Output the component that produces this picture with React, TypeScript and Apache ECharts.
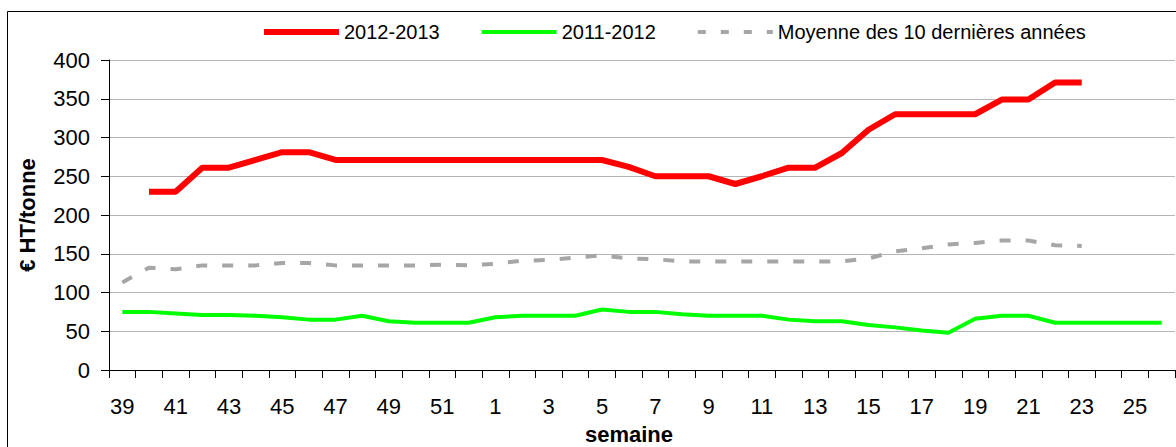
import React, { useEffect, useRef } from "react";
import * as echarts from "echarts";

const weeks = [
  "39", "40", "41", "42", "43", "44", "45", "46", "47", "48", "49", "50", "51", "52",
  "1", "2", "3", "4", "5", "6", "7", "8", "9", "10", "11", "12", "13",
  "14", "15", "16", "17", "18", "19", "20", "21", "22", "23", "24", "25", "26",
];

const price2012_2013 = [
  null, 230, 230, 261, 261, 271, 281, 281, 271, 271, 271, 271, 271, 271,
  271, 271, 271, 271, 271, 262, 250, 250, 250, 240, 250, 261, 261,
  280, 310, 330, 330, 330, 330, 349, 349, 371, 371, null, null, null,
];

const price2011_2012 = [
  75, 75, 73, 71, 71, 70, 68, 65, 65, 70, 63, 61, 61, 61,
  68, 70, 70, 70, 78, 75, 75, 72, 70, 70, 70, 65, 63,
  63, 58, 55, 51, 48, 66, 70, 70, 61, 61, 61, 61, 61,
];

const average10Years = [
  113, 132, 130, 135, 135, 135, 138, 138, 135, 135, 135, 135, 136, 135,
  137, 141, 142, 145, 148, 144, 143, 140, 140, 140, 140, 140, 140,
  140, 144, 153, 157, 162, 164, 167, 167, 161, 160, null, null, null,
];

const seriesNames = ["2012-2013", "2011-2012", "Moyenne des 10 dernières années"];
const yTitle = "€ HT/tonne";
const xTitle = "semaine";

const FONT = "'Liberation Sans', Arial, sans-serif";

export default function App() {
  const ref = useRef<HTMLDivElement>(null);
  useEffect(() => {
    if (!ref.current) return;
    const chart = echarts.init(ref.current, null, { renderer: "svg" });
    chart.setOption({
      animation: false,
      backgroundColor: "#ffffff",
      textStyle: { fontFamily: FONT },
      grid: { left: 109, right: 1, top: 60, bottom: 77, containLabel: false },
      legend: {
        left: 261,
        top: 22,
        padding: 0,
        itemGap: 40,
        itemWidth: 75,
        itemHeight: 14,
        textStyle: { fontFamily: FONT, fontSize: 20, color: "#000" },
        itemStyle: { opacity: 0 },
        data: [
          { name: seriesNames[0], lineStyle: { width: 6, color: "#ff0000" } },
          { name: seriesNames[1], lineStyle: { width: 4, color: "#00ff00" } },
          { name: seriesNames[2], lineStyle: { width: 4, color: "#a6a6a6", type: [8, 15] } },
        ],
      },
      xAxis: {
        type: "category",
        data: weeks,
        boundaryGap: true,
        axisLine: { lineStyle: { color: "#000", width: 1 } },
        axisTick: { show: true, interval: 0, length: 8, lineStyle: { color: "#000" } },
        axisLabel: { interval: 1, fontSize: 22, color: "#000", margin: 25, fontFamily: FONT },
        splitLine: { show: false },
      },
      yAxis: {
        type: "value",
        min: 0,
        max: 400,
        interval: 50,
        axisLine: { show: true, lineStyle: { color: "#000", width: 1 } },
        axisTick: { show: true, length: 8, lineStyle: { color: "#000" } },
        axisLabel: { fontSize: 22, color: "#000", margin: 19, fontFamily: FONT },
        splitLine: { show: true, lineStyle: { color: "#b4b4b4", width: 1 } },
      },
      graphic: [
        {
          type: "rect",
          shape: { x: 7.5, y: 11.5, width: 1200, height: 500 },
          style: { fill: "none", stroke: "#000", lineWidth: 1 },
          silent: true,
        },
        {
          type: "text",
          x: 27,
          y: 215,
          rotation: Math.PI / 2,
          style: {
            text: yTitle,
            fontFamily: FONT,
            fontSize: 22,
            fontWeight: "bold",
            fill: "#000",
            align: "center",
            verticalAlign: "middle",
          },
        },
        {
          type: "text",
          x: 629,
          y: 434,
          style: {
            text: xTitle,
            fontFamily: FONT,
            fontSize: 22,
            fontWeight: "bold",
            fill: "#000",
            align: "center",
            verticalAlign: "middle",
          },
        },
      ],
      series: [
        {
          name: seriesNames[1],
          type: "line",
          data: price2011_2012,
          symbol: "none",
          lineStyle: { color: "#00ff00", width: 4 },
          itemStyle: { color: "#00ff00" },
          z: 2,
        },
        {
          name: seriesNames[2],
          type: "line",
          data: average10Years,
          symbol: "none",
          lineStyle: { color: "#a6a6a6", width: 4, type: [11, 15], cap: "butt" },
          itemStyle: { color: "#a6a6a6" },
          z: 2,
        },
        {
          name: seriesNames[0],
          type: "line",
          data: price2012_2013,
          symbol: "none",
          lineStyle: { color: "#ff0000", width: 6 },
          itemStyle: { color: "#ff0000" },
          z: 3,
        },
      ],
    });
    return () => chart.dispose();
  }, []);
  return (
    <div
      ref={ref}
      style={{ position: "fixed", left: 0, top: 0, width: 1176, height: 447 }}
    />
  );
}
